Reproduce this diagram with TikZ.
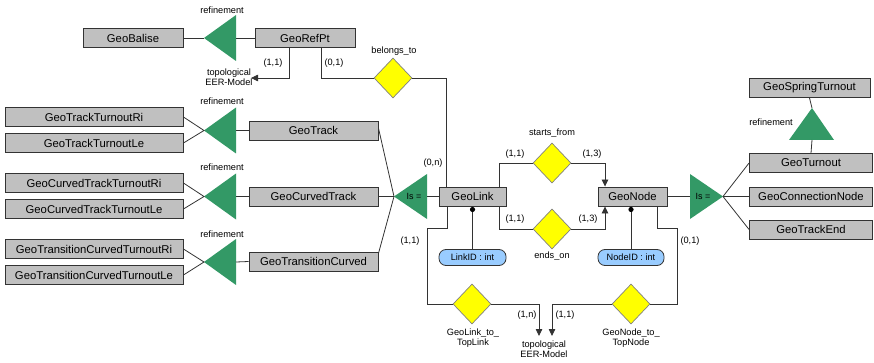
\documentclass[tikz,border=0pt]{standalone}
\usepackage{fontspec}
\setmainfont{Liberation Sans}
\usetikzlibrary{shapes.geometric,arrows.meta,calc}
\definecolor{boxgray}{HTML}{C0C0C0}
\definecolor{refgreen}{HTML}{339966}
\definecolor{relyellow}{HTML}{FFFF00}
\definecolor{attrblue}{HTML}{99CCFF}
\definecolor{linec}{HTML}{333333}
\begin{document}
\begin{tikzpicture}[x=1pt,y=-1pt,
  ent/.style={draw=linec,line width=0.9pt,fill=boxgray,minimum height=19pt,inner sep=0pt,font=\fontsize{11.3}{12}\selectfont},
  rel/.style={draw=gray,line width=0.7pt,fill=relyellow,diamond,minimum width=38pt,minimum height=40pt,inner sep=0pt},
  attr/.style={draw=linec,line width=0.8pt,fill=attrblue,rounded corners=7pt,minimum height=16pt,inner sep=0pt,font=\fontsize{9.2}{10}\selectfont},
  lbl/.style={font=\fontsize{9.2}{10.5}\selectfont,inner sep=0pt,align=center},
  conn/.style={draw=linec,line width=0.8pt},
  tri/.style={fill=refgreen,draw=none},
  arr/.style={conn,-{Triangle[length=7pt,width=6.5pt]}}]
\useasboundingbox (0,0) rectangle (874,363);
% entities
\node[ent,minimum width=100pt] (balise) at (133,38) {GeoBalise};
\node[ent,minimum width=100pt] (refpt) at (305,38) {GeoRefPt};
\node[ent,minimum width=178pt] (ttri) at (94,117) {GeoTrackTurnoutRi};
\node[ent,minimum width=178pt] (ttle) at (94,143) {GeoTrackTurnoutLe};
\node[ent,minimum width=178pt] (ctri) at (94,183) {GeoCurvedTrackTurnoutRi};
\node[ent,minimum width=178pt] (ctle) at (94,209) {GeoCurvedTrackTurnoutLe};
\node[ent,minimum width=178pt] (trri) at (94,249) {GeoTransitionCurvedTurnoutRi};
\node[ent,minimum width=178pt] (trle) at (94,275) {GeoTransitionCurvedTurnoutLe};
\node[ent,minimum width=129pt] (track) at (313.5,130.5) {GeoTrack};
\node[ent,minimum width=129pt] (ctrack) at (313.5,196.5) {GeoCurvedTrack};
\node[ent,minimum width=129pt] (trans) at (313.5,261.5) {GeoTransitionCurved};
\node[ent,minimum width=67pt] (link) at (472.5,196.5) {GeoLink};
\node[ent,minimum width=69pt] (gnode) at (632.5,196.5) {GeoNode};
\node[ent,minimum width=121pt] (spring) at (809.5,88) {GeoSpringTurnout};
\node[ent,minimum width=123pt] (turnout) at (811,163) {GeoTurnout};
\node[ent,minimum width=123pt] (connode) at (811,196.5) {GeoConnectionNode};
\node[ent,minimum width=123pt] (trackend) at (811,229.5) {GeoTrackEnd};
% relationships
\node[rel] (belongs) at (393,78) {};
\node[rel] (starts) at (552,163) {};
\node[rel] (ends) at (552,229) {};
\node[rel] (l2t) at (472,304) {};
\node[rel] (n2t) at (631,304) {};
% attributes
\node[attr,minimum width=67pt] (linkid) at (472.5,257.5) {LinkID : int};
\node[attr,minimum width=66pt] (nodeid) at (631,257.5) {NodeID : int};
% triangles (refinement, pointing left)
\foreach \n/\cy in {r1/38,r2/130.5,r3/196.5,r4/262}{
  \fill[tri] (204,\cy) -- (236,\cy-23) -- (236,\cy+23) -- cycle;
  \coordinate (\n tip) at (204,\cy);
  \coordinate (\n base) at (236,\cy);
}
% Is = left
\fill[tri] (394,196.5) -- (427,174) -- (427,219) -- cycle;
\coordinate (isLtip) at (394,196.5);
\coordinate (isLbase) at (427,196.5);
\node[lbl,font=\fontsize{9}{10}\selectfont] (isL) at (414,196.5) {Is =};
% Is = right
\fill[tri] (723,196.5) -- (690,174) -- (690,219) -- cycle;
\coordinate (isRtip) at (723,196.5);
\coordinate (isRbase) at (690,196.5);
\node[lbl,font=\fontsize{9}{10}\selectfont] (isR) at (703,196.5) {Is =};
% up triangle
\fill[tri] (812,108) -- (834,140) -- (789,140) -- cycle;
\coordinate (upapex) at (812,108);
\coordinate (upbase) at (812,140);
% refinement labels
\node[lbl] (ref1) at (222,10) {refinement};
\node[lbl] (ref2) at (222,101) {refinement};
\node[lbl] (ref3) at (222,167) {refinement};
\node[lbl] (ref4) at (222,234) {refinement};
\node[lbl] (ref5) at (771,122) {refinement};
% refinement connectors
\draw[conn] (balise.east) -- (r1tip);
\draw[conn] (r1base) -- (refpt.west);
\draw[conn] (ttri.east) -- (r2tip) -- (ttle.east);
\draw[conn] (r2base) -- (track.west);
\draw[conn] (ctri.east) -- (r3tip) -- (ctle.east);
\draw[conn] (r3base) -- (ctrack.west);
\draw[conn] (trri.east) -- (r4tip) -- (trle.east);
\draw[conn] (r4base) -- (trans.west);
\draw[conn] ($(track.east)+(0,-2.5)$) -- (isLtip);
\draw[conn] (ctrack.east) -- (isLtip);
\draw[conn] ($(trans.east)+(0,-8)$) -- (isLtip);
\draw[conn] (isLbase) -- (link.west);
\draw[conn] (gnode.east) -- (isRbase);
\draw[conn] (isRtip) -- (turnout.west);
\draw[conn] (isRtip) -- (connode.west);
\draw[conn] (isRtip) -- (trackend.west);
\draw[conn] (spring.south) -- (upapex);
\draw[conn] (upbase) -- (turnout.north);
% GeoRefPt to topological
\node[lbl] (topo1) at (229,77) {topological\\EER-Model};
\coordinate (topo1end) at (251,78);
\draw[arr] (refpt.south -| 289,0) |- (topo1end);
\node[lbl] (c11a) at (273,63) {(1,1)};
% belongs_to
\node[lbl] (belongsl) at (394,51) {belongs\_to};
\draw[conn] (refpt.south -| 321,0) |- (belongs.west);
\draw[conn] (belongs.east) -| (link.north -| 446,0);
\node[lbl] (c01a) at (334,63) {(0,1)};
\node[lbl] (c0n) at (433,163) {(0,n)};
% starts_from
\node[lbl] (startsl) at (552,133) {starts\_from};
\draw[conn] (link.north -| 499,0) |- (starts.west);
\draw[arr] (starts.east) -| (gnode.north -| 605,0);
\node[lbl] (c11b) at (515,154) {(1,1)};
\node[lbl] (c13a) at (592,154) {(1,3)};
% ends_on
\node[lbl] (endsl) at (552,256) {ends\_on};
\draw[conn] (link.south -| 499,0) |- (ends.west);
\draw[arr] (ends.east) -| (gnode.south -| 605,0);
\node[lbl] (c11c) at (515,219) {(1,1)};
\node[lbl] (c13b) at (588,219) {(1,3)};
% attributes
\draw[conn] (link.south -| linkid.north) -- (linkid.north);
\fill[black] (472.5,209.5) circle (2.6pt);
\draw[conn] (gnode.south -| nodeid.north) -- (nodeid.north);
\fill[black] (631,209.5) circle (2.6pt);
% bottom relations
\node[lbl] (topo2) at (544,349) {topological\\EER-Model};
\coordinate (topo2a) at (539,336);
\coordinate (topo2b) at (552,336);
\draw[conn] (link.south -| 447,0) |- (427,228) |- (l2t.west);
\draw[arr] (l2t.east) -| (topo2a);
\draw[arr] (n2t.west) -| (topo2b);
\draw[conn] (gnode.south -| 657,0) |- (677,228) |- (n2t.east);
\node[lbl] (c11d) at (410,241) {(1,1)};
\node[lbl] (c1n) at (527,315) {(1,n)};
\node[lbl] (c11e) at (565,315) {(1,1)};
\node[lbl] (c01b) at (690,241) {(0,1)};
\node[lbl] (l2tl) at (473,338) {GeoLink\_to\_\\TopLink};
\node[lbl] (n2tl) at (631,338) {GeoNode\_to\_\\TopNode};
\end{tikzpicture}
\end{document}
